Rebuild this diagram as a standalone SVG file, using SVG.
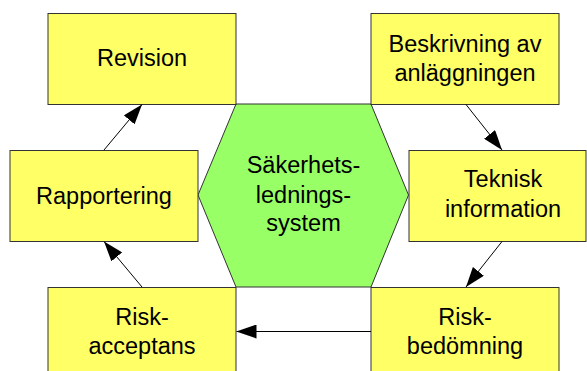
<svg xmlns="http://www.w3.org/2000/svg" width="587" height="371" viewBox="0 0 587 371">
  <defs>
    <style>
      .box { fill: #ffff66; stroke: #333333; stroke-width: 1; }
      .hex { fill: #99ff66; stroke: #333333; stroke-width: 1; }
      .lbl { font-family: "Liberation Sans", Arial, sans-serif; font-size: 23.5px; fill: #000000; text-anchor: middle; }
      .edge { fill: none; stroke: #000000; stroke-width: 1; marker-end: url(#head); }
    </style>
    <marker id="head" markerUnits="userSpaceOnUse" markerWidth="20" markerHeight="14" refX="20" refY="7" orient="auto" viewBox="0 0 20 14">
      <path d="M0,0 L20,7 L0,14 z" fill="#000000"/>
    </marker>
  </defs>
  <rect width="587" height="371" fill="#ffffff"/>

  <g id="system">
    <polygon class="hex" points="236,104 371,104 408.5,195 371,287 236,287 198,195"/>
    <text class="lbl" x="303.5" y="173.3">Säkerhets-</text>
    <text class="lbl" x="303.5" y="202.5">lednings-</text>
    <text class="lbl" x="303.5" y="231">system</text>
  </g>

  <g id="revision">
    <rect class="box" x="48" y="13.5" width="188" height="91"/>
    <text class="lbl" x="142" y="65.7">Revision</text>
  </g>

  <g id="beskrivning">
    <rect class="box" x="371" y="13.5" width="188" height="91"/>
    <text class="lbl" x="465" y="51.7">Beskrivning av</text>
    <text class="lbl" x="465" y="81">anläggningen</text>
  </g>

  <g id="rapportering">
    <rect class="box" x="10" y="150.5" width="188" height="91"/>
    <text class="lbl" x="104" y="204">Rapportering</text>
  </g>

  <g id="teknisk">
    <rect class="box" x="409" y="150.5" width="177" height="91"/>
    <text class="lbl" x="503" y="187.3">Teknisk</text>
    <text class="lbl" x="503" y="216.7">information</text>
  </g>

  <g id="riskacceptans">
    <rect class="box" x="48" y="287.5" width="188" height="100"/>
    <text class="lbl" x="142" y="325">Risk-</text>
    <text class="lbl" x="142" y="353.5">acceptans</text>
  </g>

  <g id="riskbedomning">
    <rect class="box" x="371" y="287.5" width="188" height="100"/>
    <text class="lbl" x="465" y="325">Risk-</text>
    <text class="lbl" x="465" y="353.5">bedömning</text>
  </g>

  <g id="connectors">
    <line class="edge" x1="104" y1="150" x2="142" y2="104.5"/>
    <line class="edge" x1="466" y1="104.5" x2="502" y2="150"/>
    <line class="edge" x1="502" y1="241.5" x2="466" y2="287"/>
    <line class="edge" x1="371" y1="331.5" x2="236.5" y2="331.5"/>
    <line class="edge" x1="142" y1="287" x2="104" y2="241.5"/>
  </g>
</svg>
